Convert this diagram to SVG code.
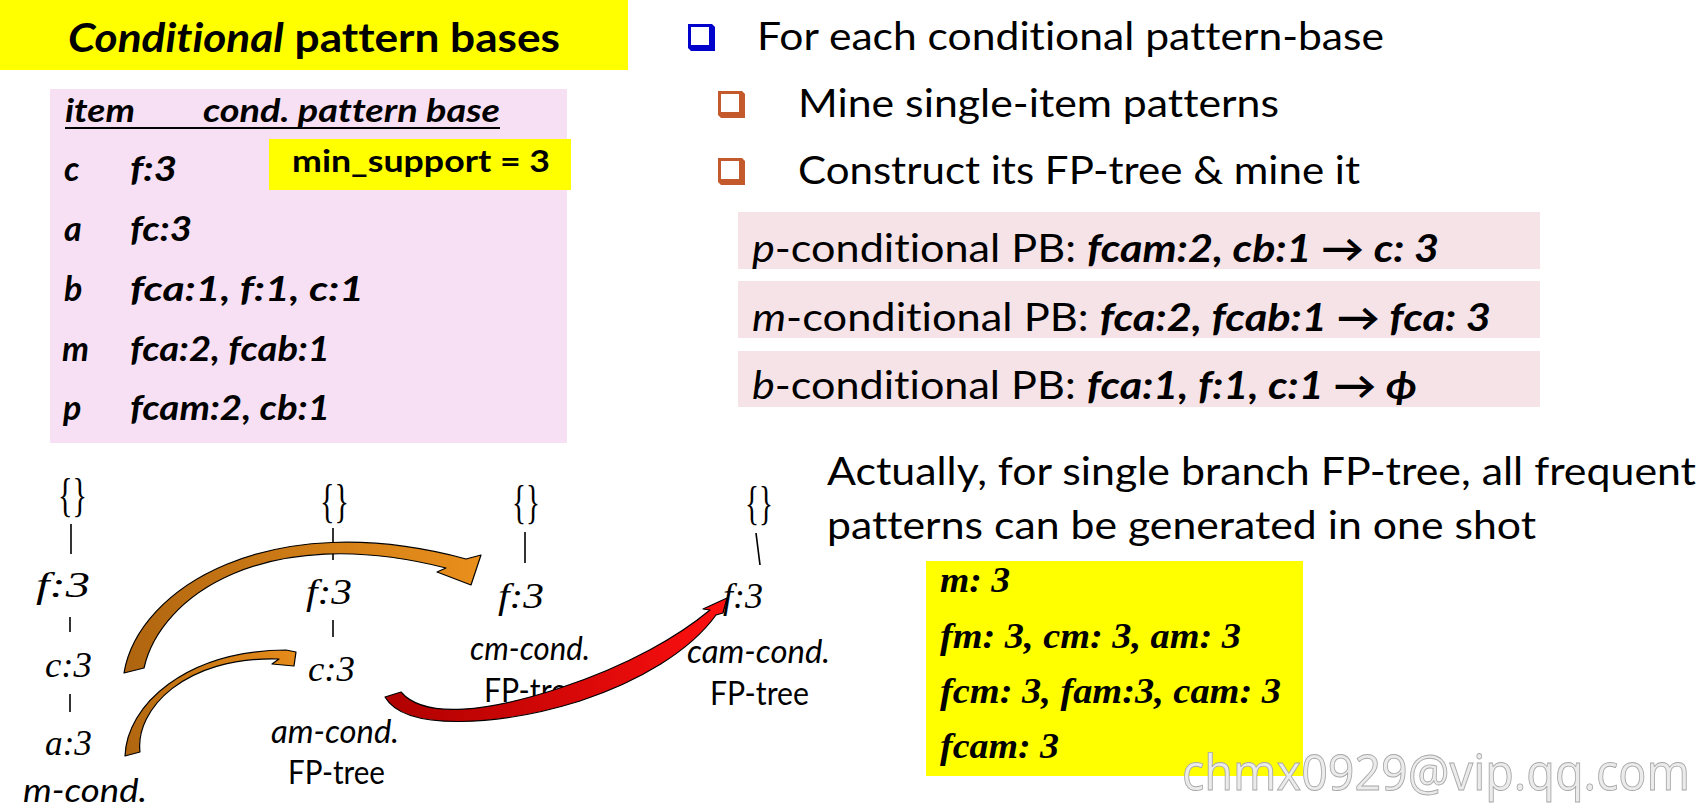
<svg xmlns="http://www.w3.org/2000/svg" width="1702" height="811" viewBox="0 0 1702 811">
<defs>
<style>
text{font-variant-ligatures:none}
.sans{font-family:Lato,"Liberation Sans",sans-serif;fill:#000}
.bi{font-weight:bold;font-style:italic}
.b{font-weight:bold}
.i{font-style:italic}
.hdr{font-family:Lato,"Liberation Sans",sans-serif;font-weight:bold;font-style:italic;font-size:32px}
.row{font-family:Lato,"Liberation Sans",sans-serif;font-weight:bold;font-style:italic;font-size:34px}
.bul{font-family:Lato,"Liberation Sans",sans-serif;font-size:38px}
.tl{font-family:"Liberation Serif",serif;font-style:italic;font-size:36px}
.br{font-family:"Liberation Serif",serif;font-size:46px}
.lab{font-family:Lato,"Liberation Sans",sans-serif;font-size:32px}
.res{font-family:"Liberation Serif",serif;font-weight:bold;font-style:italic;font-size:35px}
.edge{stroke:#000;stroke-width:1.6;fill:none}
.arw{stroke:#000;stroke-width:1.2;stroke-linejoin:round}
</style>
<linearGradient id="g1" gradientUnits="userSpaceOnUse" x1="125" y1="672" x2="478" y2="560"><stop offset="0" stop-color="#AE640F"/><stop offset="1" stop-color="#E98F1C"/></linearGradient>
<linearGradient id="g2" gradientUnits="userSpaceOnUse" x1="125" y1="755" x2="294" y2="655"><stop offset="0" stop-color="#AE640F"/><stop offset="1" stop-color="#E58B1A"/></linearGradient>
<linearGradient id="g3" gradientUnits="userSpaceOnUse" x1="386" y1="697" x2="726" y2="600"><stop offset="0" stop-color="#B00000"/><stop offset="1" stop-color="#FF1010"/></linearGradient>
</defs>
<rect width="1702" height="811" fill="#fff"/>

<g id="title">
<rect x="0" y="0" width="628" height="70" fill="#FFFF00"/>
<text class="sans b" x="68" y="52" font-size="40" textLength="492" lengthAdjust="spacingAndGlyphs"><tspan class="i">Conditional</tspan> pattern bases</text>
</g>

<g id="table">
<rect x="50" y="89" width="517" height="354" fill="#F8E0F4"/>
<text class="hdr" x="65" y="122" textLength="70" lengthAdjust="spacingAndGlyphs">item</text>
<text class="hdr" x="203" y="122" textLength="297" lengthAdjust="spacingAndGlyphs">cond. pattern base</text>
<line x1="65" y1="128" x2="500" y2="128" stroke="#000" stroke-width="2"/>
<text class="row" x="64" y="181">c</text>
<text class="row" x="130" y="181" textLength="47" lengthAdjust="spacingAndGlyphs">f:3</text>
<text class="row" x="64" y="241">a</text>
<text class="row" x="130" y="241" textLength="62" lengthAdjust="spacingAndGlyphs">fc:3</text>
<text class="row" x="64" y="301">b</text>
<text class="row" x="130" y="301" textLength="234" lengthAdjust="spacingAndGlyphs">fca:1, f:1, c:1</text>
<text class="row" x="62" y="361">m</text>
<text class="row" x="130" y="361" textLength="200" lengthAdjust="spacingAndGlyphs">fca:2, fcab:1</text>
<text class="row" x="63" y="420">p</text>
<text class="row" x="130" y="420" textLength="200" lengthAdjust="spacingAndGlyphs">fcam:2, cb:1</text>
</g>

<g id="min-support">
<rect x="269" y="139" width="302" height="51" fill="#FFFF00"/>
<text class="sans b" x="292" y="172" font-size="31" textLength="258" lengthAdjust="spacingAndGlyphs">min_support = 3</text>
</g>

<g id="bullets">
<g id="bullet1">
<polygon points="688,24 712,24 715,27 715,51 691,51 688,48" fill="#0000CC"/>
<rect x="691" y="27" width="18" height="18" fill="#fff"/>
<text class="bul" x="757" y="50" textLength="627" lengthAdjust="spacingAndGlyphs">For each conditional pattern-base</text>
</g>
<g id="bullet2">
<polygon points="718,91 742,91 745,94 745,118 721,118 718,115" fill="#C4592B"/>
<rect x="721" y="94" width="18" height="18" fill="#fff"/>
<text class="bul" x="798" y="117" textLength="481" lengthAdjust="spacingAndGlyphs">Mine single-item patterns</text>
</g>
<g id="bullet3">
<polygon points="718,158 742,158 745,161 745,185 721,185 718,182" fill="#C4592B"/>
<rect x="721" y="161" width="18" height="18" fill="#fff"/>
<text class="bul" x="798" y="184" textLength="562" lengthAdjust="spacingAndGlyphs">Construct its FP-tree &amp; mine it</text>
</g>
</g>

<g id="pb-p">
<rect x="738" y="212" width="802" height="57" fill="#F5E3E8"/>
<text class="bul" x="752" y="262" textLength="687" lengthAdjust="spacingAndGlyphs"><tspan class="i">p</tspan>-conditional PB: <tspan class="bi">fcam:2, cb:1 → c: 3</tspan></text>
</g>
<g id="pb-m">
<rect x="738" y="281" width="802" height="57" fill="#F5E3E8"/>
<text class="bul" x="752" y="331" textLength="739" lengthAdjust="spacingAndGlyphs"><tspan class="i">m</tspan>-conditional PB: <tspan class="bi">fca:2, fcab:1 → fca: 3</tspan></text>
</g>
<g id="pb-b">
<rect x="738" y="351" width="802" height="56" fill="#F5E3E8"/>
<text class="bul" x="752" y="399" textLength="665" lengthAdjust="spacingAndGlyphs"><tspan class="i">b</tspan>-conditional PB: <tspan class="bi">fca:1, f:1, c:1 → ϕ</tspan></text>
</g>

<g id="note">
<text class="bul" x="827" y="485" textLength="869" lengthAdjust="spacingAndGlyphs">Actually, for single branch FP-tree, all frequent</text>
<text class="bul" x="827" y="539" textLength="709" lengthAdjust="spacingAndGlyphs">patterns can be generated in one shot</text>
</g>

<g id="results">
<rect x="926" y="561" width="377" height="215" fill="#FFFF00"/>
<text class="res" x="940" y="592" textLength="70" lengthAdjust="spacingAndGlyphs">m: 3</text>
<text class="res" x="940" y="648" textLength="301" lengthAdjust="spacingAndGlyphs">fm: 3, cm: 3, am: 3</text>
<text class="res" x="940" y="703" textLength="341" lengthAdjust="spacingAndGlyphs">fcm: 3, fam:3, cam: 3</text>
<text class="res" x="940" y="758" textLength="119" lengthAdjust="spacingAndGlyphs">fcam: 3</text>
</g>

<g id="tree-m">
<text class="br" x="58" y="511" textLength="29" lengthAdjust="spacingAndGlyphs">{}</text>
<line class="edge" x1="71" y1="524" x2="71" y2="554"/>
<text class="tl" x="36" y="597" textLength="54" lengthAdjust="spacingAndGlyphs">f:3</text>
<line class="edge" x1="70" y1="617" x2="70" y2="632"/>
<text class="tl" x="45" y="677" textLength="47" lengthAdjust="spacingAndGlyphs">c:3</text>
<line class="edge" x1="70" y1="694" x2="70" y2="712"/>
<text class="tl" x="45" y="755" textLength="47" lengthAdjust="spacingAndGlyphs">a:3</text>
<text class="lab i" x="23" y="802" textLength="124" lengthAdjust="spacingAndGlyphs">m-cond.</text>
</g>

<g id="tree-am">
<text class="br" x="320" y="517" textLength="29" lengthAdjust="spacingAndGlyphs">{}</text>
<line class="edge" x1="333" y1="528" x2="333" y2="560"/>
<text class="tl" x="306" y="604" textLength="46" lengthAdjust="spacingAndGlyphs">f:3</text>
<line class="edge" x1="333" y1="620" x2="333" y2="637"/>
<text class="tl" x="308" y="681" textLength="47" lengthAdjust="spacingAndGlyphs">c:3</text>
<text class="lab i" x="271" y="743" textLength="128" lengthAdjust="spacingAndGlyphs">am-cond.</text>
<text class="lab" x="288" y="784" textLength="97" lengthAdjust="spacingAndGlyphs">FP-tree</text>
</g>

<g id="tree-cm">
<text class="br" x="512" y="518" textLength="28" lengthAdjust="spacingAndGlyphs">{}</text>
<line class="edge" x1="525" y1="532" x2="525" y2="563"/>
<text class="tl" x="498" y="608" textLength="46" lengthAdjust="spacingAndGlyphs">f:3</text>
<text class="lab i" x="470" y="660" textLength="120" lengthAdjust="spacingAndGlyphs">cm-cond.</text>
<text class="lab" x="484" y="702" textLength="99" lengthAdjust="spacingAndGlyphs">FP-tree</text>
</g>

<g id="tree-cam">
<text class="br" x="745" y="519" textLength="28" lengthAdjust="spacingAndGlyphs">{}</text>
<line class="edge" x1="756" y1="533" x2="760" y2="565"/>
<text class="tl" x="723" y="608" textLength="40" lengthAdjust="spacingAndGlyphs">f:3</text>
<text class="lab i" x="687" y="663" textLength="143" lengthAdjust="spacingAndGlyphs">cam-cond.</text>
<text class="lab" x="710" y="705" textLength="99" lengthAdjust="spacingAndGlyphs">FP-tree</text>
</g>

<g id="connectors">
<path class="arw" fill="url(#g1)" d="M124,673 C138,588 270,506 466,559 L481,555 L471,585 L437,572 L446,568 C265,522 160,596 144,668 Z"/>
<path class="arw" fill="url(#g2)" d="M125,756 C127,705 185,651 286,650 L296,652 L294,666 L272,664 L279,659 C184,656 135,710 140,752 Z"/>
<path class="arw" fill="url(#g3)" d="M385,697 C405,732 500,726 580,701 C640,681 690,651 716,615 L723,613 L727,598 L703,609 L710,610 C680,635 630,665 560,688 C490,711 425,720 401,692 Z"/>
</g>

<g id="watermark">
<text x="1182" y="790" font-family="'Noto Sans','DejaVu Sans',sans-serif" font-size="50" fill="#EBEBEB" stroke="#A8A8A8" stroke-width="0.9" textLength="508" lengthAdjust="spacingAndGlyphs">chmx0929@vip.qq.com</text>
</g>
</svg>
